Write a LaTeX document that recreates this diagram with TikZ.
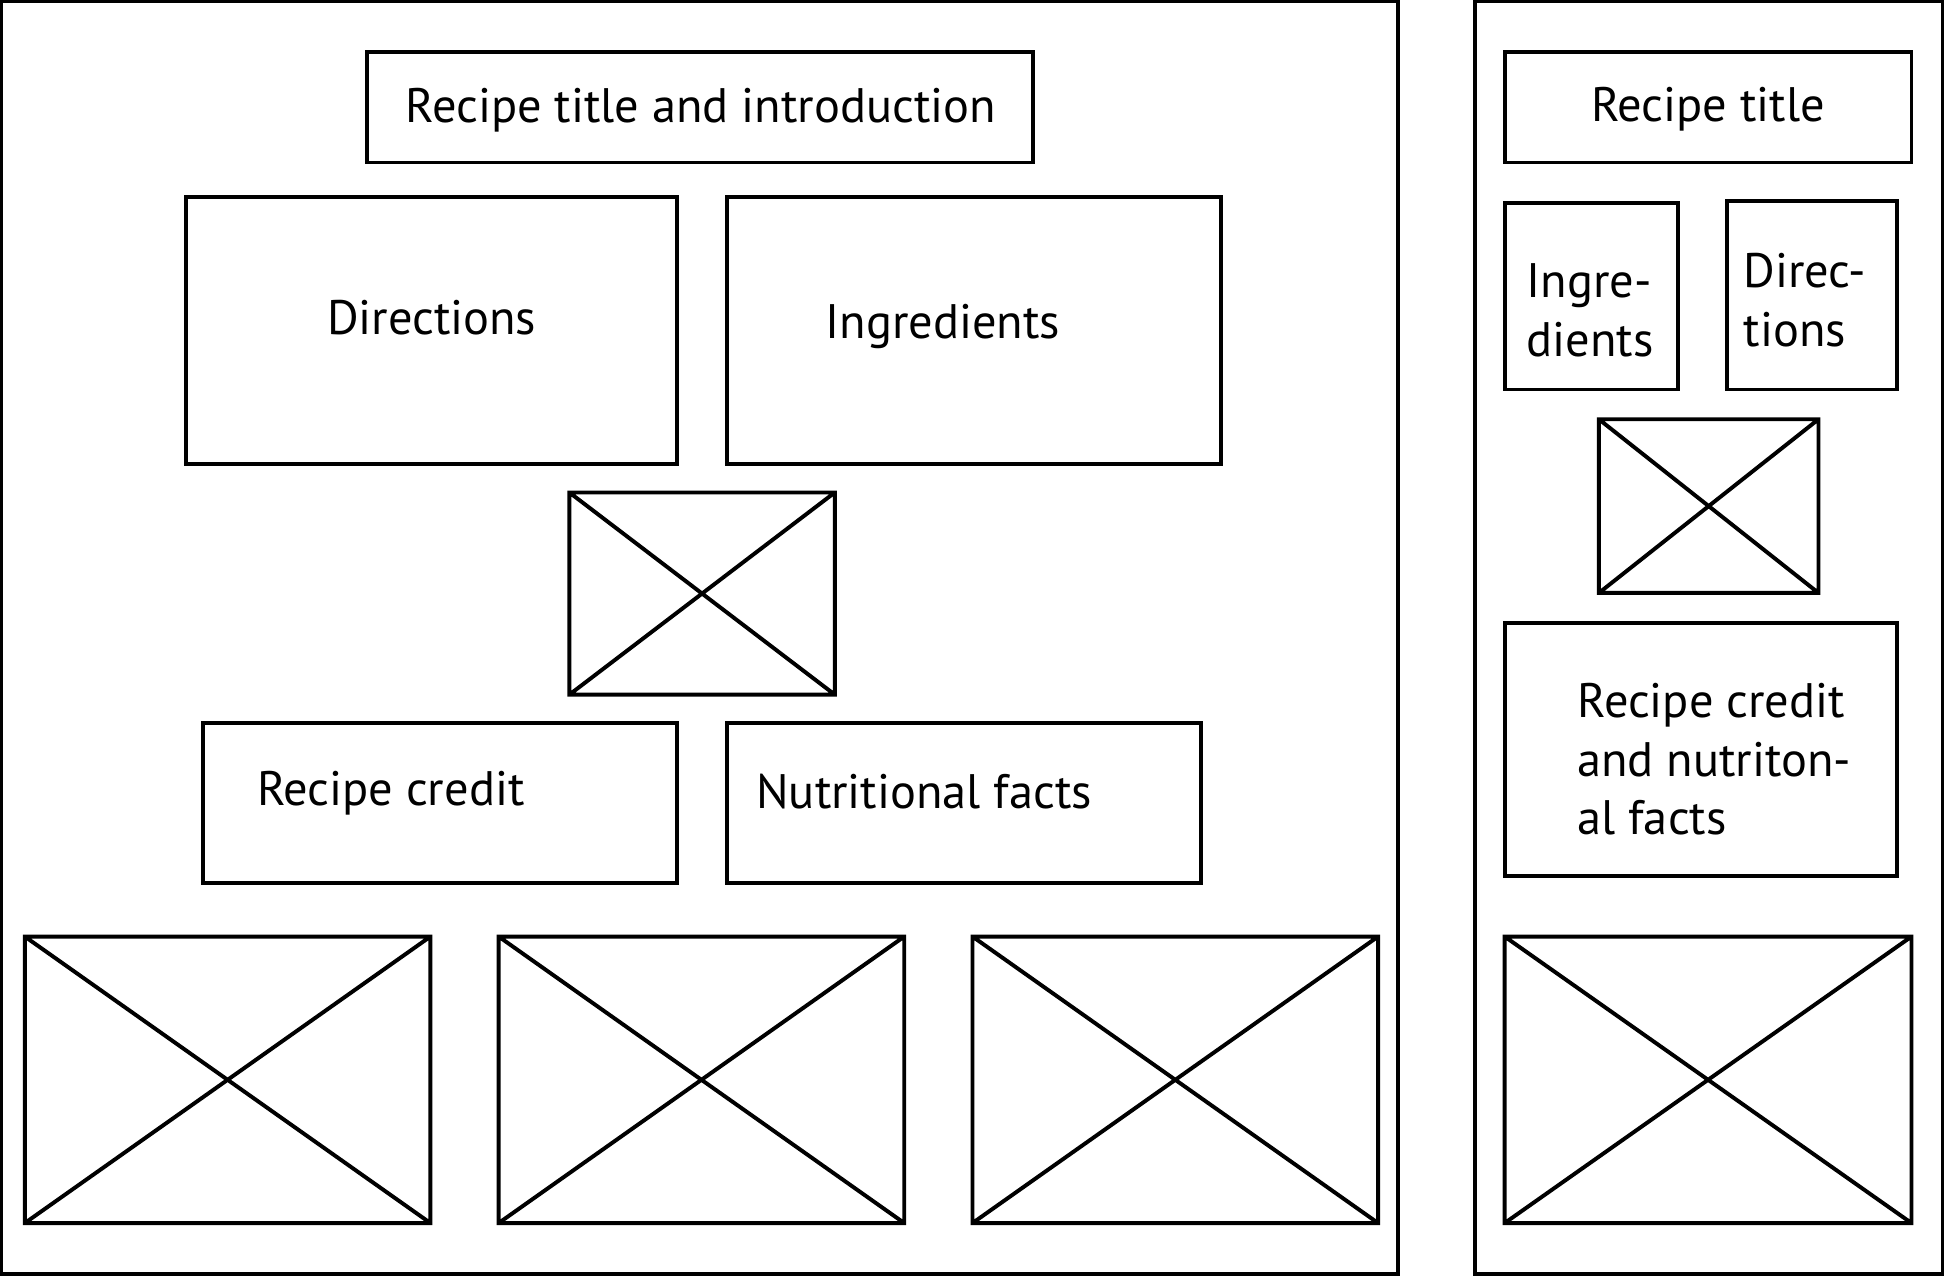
\documentclass[tikz,border=0pt]{standalone}
\usepackage{fontspec}
\setmainfont{PT Sans}
\usetikzlibrary{math}

\tikzset{
  box/.style={line width=0.9pt},
  lbl/.style={inner sep=0pt, font=\fontsize{11.1}{13.4}\selectfont},
}

\begin{document}
\begin{tikzpicture}[x=0.01cm,y=-0.01cm]
\useasboundingbox (0,0) rectangle (1568,1029);

%%%%%%%%%% desktop layout
\draw[box] (1,1) rectangle (1127,1027);

\draw[box] (296,42) rectangle (833,131);
\node[lbl, anchor=base] (title) at (565,99) {Recipe title and introduction};

\draw[box] (150,159) rectangle (546,374);
\node[lbl, anchor=base] (directions) at (348,270) {Directions};
\draw[box] (586,159) rectangle (984,374);
\node[lbl, anchor=base] (ingredients) at (760,273) {Ingredients};

\draw[box] (459,397) rectangle (673,560) (459,397) -- (673,560) (459,560) -- (673,397);

\draw[box] (164,583) rectangle (546,712);
\node[lbl, anchor=base] (credit) at (315,649) {Recipe credit};
\draw[box] (586,583) rectangle (968,712);
\node[lbl, anchor=base] (nutrition) at (745,652) {Nutritional facts};

\foreach \x in {20,402,784}
  \draw[box] (\x,755) rectangle (\x+327,986) (\x,755) -- (\x+327,986) (\x,986) -- (\x+327,755);

%%%%%%%%%% mobile layout
\draw[box] (1189,1) rectangle (1566,1027);

\draw[box] (1213,42) rectangle (1541,131);
\node[lbl, anchor=base] (mtitle) at (1377,98) {Recipe title};

% base anchor sits on the last line here
\draw[box] (1213,164) rectangle (1353,314);
\node[lbl, anchor=base west, align=left] (mingredients) at (1230,287) {Ingre-\\dients};
\draw[box] (1392,162) rectangle (1529,314);
\node[lbl, anchor=base west, align=left] (mdirections) at (1405,279) {Direc-\\tions};

\draw[box] (1289,338) rectangle (1466,478) (1289,338) -- (1466,478) (1289,478) -- (1466,338);

\draw[box] (1213,502) rectangle (1529,706);
\node[lbl, anchor=base west, align=left] (mcredit) at (1271,673) {Recipe credit\\and nutriton-\\al facts};

\draw[box] (1213,755) rectangle (1541,986) (1213,755) -- (1541,986) (1213,986) -- (1541,755);

\end{tikzpicture}
\end{document}
